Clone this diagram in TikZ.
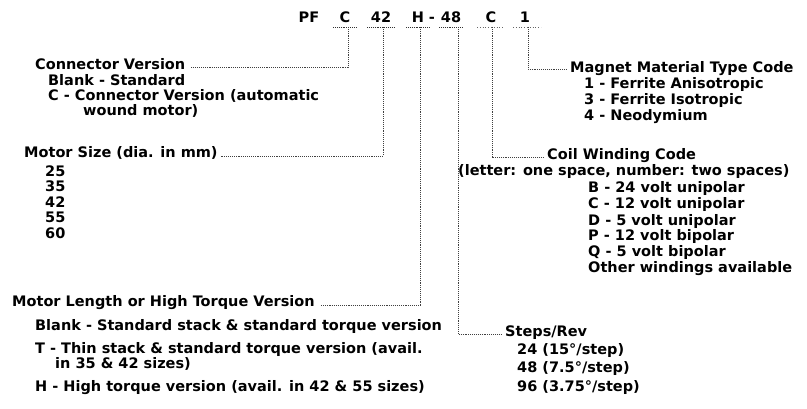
\documentclass[tikz,border=0pt]{standalone}
\usepackage{fontspec}
\setmainfont{DejaVu Sans}[BoldFont={DejaVu Sans Bold}]
\begin{document}
\tikzset{
  txt/.style={anchor=west, inner sep=0pt, font=\bfseries\fontsize{14.5}{17}\selectfont},
  code/.style={anchor=base, inner sep=0pt, font=\bfseries\fontsize{14.5}{17}\selectfont},
  conn/.style={draw=black!75, line width=0.9pt, densely dotted},
  uline/.style={draw=black!80, line width=0.9pt, densely dotted},
  ulinelight/.style={draw=black!60, line width=0.8pt, dotted},
}
\begin{tikzpicture}[x=1pt,y=-1pt]
\useasboundingbox (0,0) rectangle (807,409);
% part number
\node[code] (pf) at (309,23) {PF};
\node[code] (kC) at (345,23) {C};
\node[code] (k42) at (381,23) {42};
\node[code] (kH) at (418,23) {H};
\node[code] (kdash) at (432,23) {-};
\node[code] (k48) at (451,23) {48};
\node[code] (kC2) at (491,23) {C};
\node[code] (k1) at (525,23) {1};
% underlines and drop points
\draw[uline] (333,27) -- (356,27);
\draw[uline] (367,27) -- (394,27);
\draw[uline] (406,27) -- (430,27);
\draw[uline] (439,27) -- (463,27);
\draw[ulinelight] (477,27) -- (504,27);
\draw[ulinelight] (513,27) -- (541,27);
\coordinate (dC) at (348,27);
\coordinate (d42) at (383,27);
\coordinate (dH) at (420,27);
\coordinate (d48) at (458,27);
\coordinate (dC2) at (492,27);
\coordinate (d1) at (528,27);
% left: connector version
\node[txt] (tConn) at (35,64) {Connector Version};
\node[txt] (tConn1) at (48,80) {Blank - Standard};
\node[txt] (tConn2) at (48,96) {C - Connector Version (automatic};
\node[txt] (tConn3) at (83,111) {wound motor)};
% motor size
\node[txt] (tSize) at (24,153) {Motor Size (dia. in mm)};
\node[txt] (s25) at (45,171) {25};
\node[txt] (s35) at (45,186.5) {35};
\node[txt] (s42) at (45,202) {42};
\node[txt] (s55) at (45,217.5) {55};
\node[txt] (s60) at (45,233) {60};
% motor length
\node[txt] (tLen) at (12,303) {Motor Length or High Torque Version};
\node[txt] (tLen1) at (35,326) {Blank - Standard stack \& standard torque version};
\node[txt] (tLen2) at (35,349) {T - Thin stack \& standard torque version (avail.};
\node[txt] (tLen3) at (55,364) {in 35 \& 42 sizes)};
\node[txt] (tLen4) at (35,388) {H - High torque version (avail. in 42 \& 55 sizes)};
% magnet
\node[txt] (tMag) at (570,69) {Magnet Material Type Code};
\node[txt] (tMag1) at (584,85) {1 - Ferrite Anisotropic};
\node[txt] (tMag2) at (584,101) {3 - Ferrite Isotropic};
\node[txt] (tMag3) at (584,117) {4 - Neodymium};
% coil
\node[txt] (tCoil) at (547,156) {Coil Winding Code};
\node[txt] (tCoil0) at (458,172) {(letter: one space, number: two spaces)};
\node[txt] (tCoil1) at (588,189) {B - 24 volt unipolar};
\node[txt] (tCoil2) at (588,205) {C - 12 volt unipolar};
\node[txt] (tCoil3) at (588,221) {D - 5 volt unipolar};
\node[txt] (tCoil4) at (588,237) {P - 12 volt bipolar};
\node[txt] (tCoil5) at (588,253) {Q - 5 volt bipolar};
\node[txt] (tCoil6) at (588,269) {Other windings available};
% steps
\node[txt] (tSt) at (505,333) {Steps/Rev};
\node[txt] (tSt1) at (517,351) {24 (15°/step)};
\node[txt] (tSt2) at (517,369) {48 (7.5°/step)};
\node[txt] (tSt3) at (517,388) {96 (3.75°/step)};
% connectors
\draw[conn] (dC) |- ([xshift=6pt,yshift=-3pt]tConn.east);
\draw[conn] (d42) |- ([xshift=3pt,yshift=-3pt]tSize.east);
\draw[conn] (dH) |- ([xshift=6pt,yshift=-2pt]tLen.east);
\draw[conn] (d48) |- ([xshift=-3pt,yshift=-1pt]tSt.west);
\draw[conn] (dC2) |- ([xshift=-3pt,yshift=-1pt]tCoil.west);
\draw[conn] (d1) |- ([xshift=-3pt,yshift=0pt]tMag.west);
\end{tikzpicture}
\end{document}
